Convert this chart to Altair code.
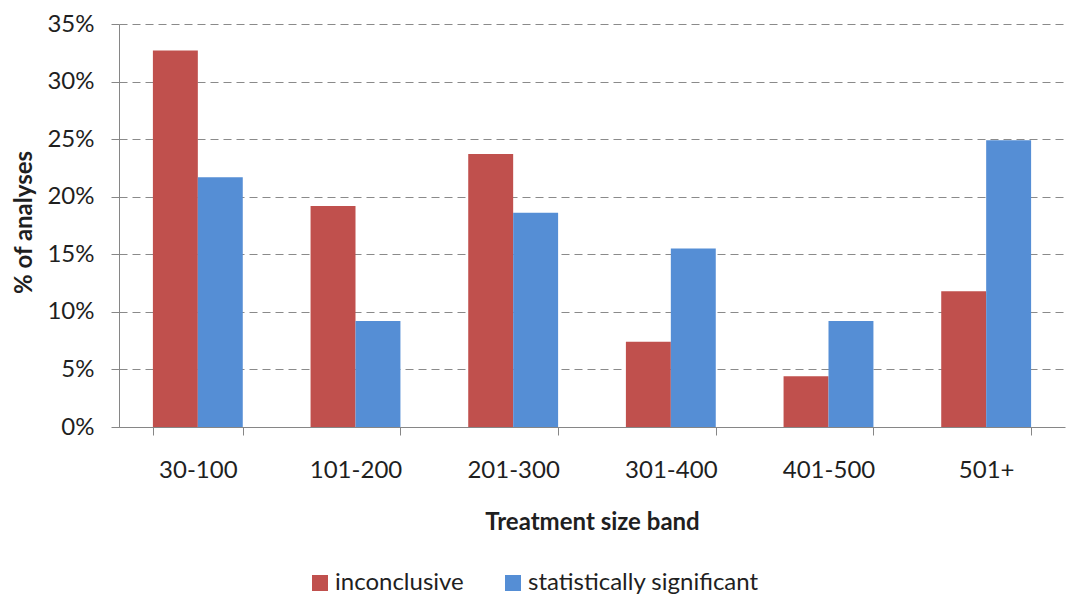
import altair as alt
import pandas as pd

categories = ["30-100", "101-200", "201-300", "301-400", "401-500", "501+"]
inconclusive = [0.327, 0.192, 0.237, 0.074, 0.044, 0.118]
significant = [0.217, 0.092, 0.186, 0.155, 0.092, 0.249]
series = ["inconclusive", "statistically significant"]
colors = ["#C0504D", "#558ED5"]
y_ticks = [0, 0.05, 0.10, 0.15, 0.20, 0.25, 0.30, 0.35]

rows = []
for c, a, b in zip(categories, inconclusive, significant):
    rows.append({"band": c, "series": series[0], "value": a})
    rows.append({"band": c, "series": series[1], "value": b})
df = pd.DataFrame(rows)

FONT = "Lato"
TXT = "#1f1f1f"
AX = "#868686"

chart = alt.Chart(df).mark_bar().encode(
    x=alt.X(
        "band:N", sort=categories,
        scale=alt.Scale(paddingInner=0.43, paddingOuter=0.215),
        axis=alt.Axis(
            title="Treatment size band", labelAngle=0, tickBand="extent",
            labelFont=FONT, labelFontSize=24, labelColor=TXT, labelPadding=23,
            tickSize=8, tickColor=AX, domainColor=AX,
            titleFont=FONT, titleFontSize=24, titleFontWeight="bold", titleColor=TXT,
            titleBaseline="middle", titleY=95,
        ),
    ),
    xOffset=alt.XOffset("series:N", sort=series),
    y=alt.Y(
        "value:Q",
        scale=alt.Scale(domain=[0, 0.35], nice=False),
        axis=alt.Axis(
            title="% of analyses", values=y_ticks, format=".0%",
            labelFont=FONT, labelFontSize=24, labelColor=TXT, labelPadding=17,
            tickSize=8, tickColor=AX, domainColor=AX,
            grid=True, gridColor="#8a8a8a", gridDash=[8, 5], gridWidth=1.2,
            titleFont=FONT, titleFontSize=24, titleFontWeight="bold", titleColor=TXT,
            titleBaseline="middle", titleX=-95, titleY=198, titleAngle=270,
        ),
    ),
    color=alt.Color(
        "series:N",
        scale=alt.Scale(domain=series, range=colors),
        legend=alt.Legend(
            title=None, orient="none", direction="horizontal",
            legendX=189, legendY=547,
            symbolType="square", symbolSize=256, symbolStrokeWidth=0,
            labelFont=FONT, labelFontSize=24, labelColor=TXT, labelLimit=400,
            labelOffset=3, columnPadding=37,
        ),
    ),
).properties(
    width=946, height=403,
    autosize=alt.AutoSizeParams(type="none"),
    padding={"left": 111, "top": 16, "right": 2, "bottom": 173},
).configure_view(stroke=None)

chart.save("out.html", embed_options={"renderer": "svg", "actions": False})
